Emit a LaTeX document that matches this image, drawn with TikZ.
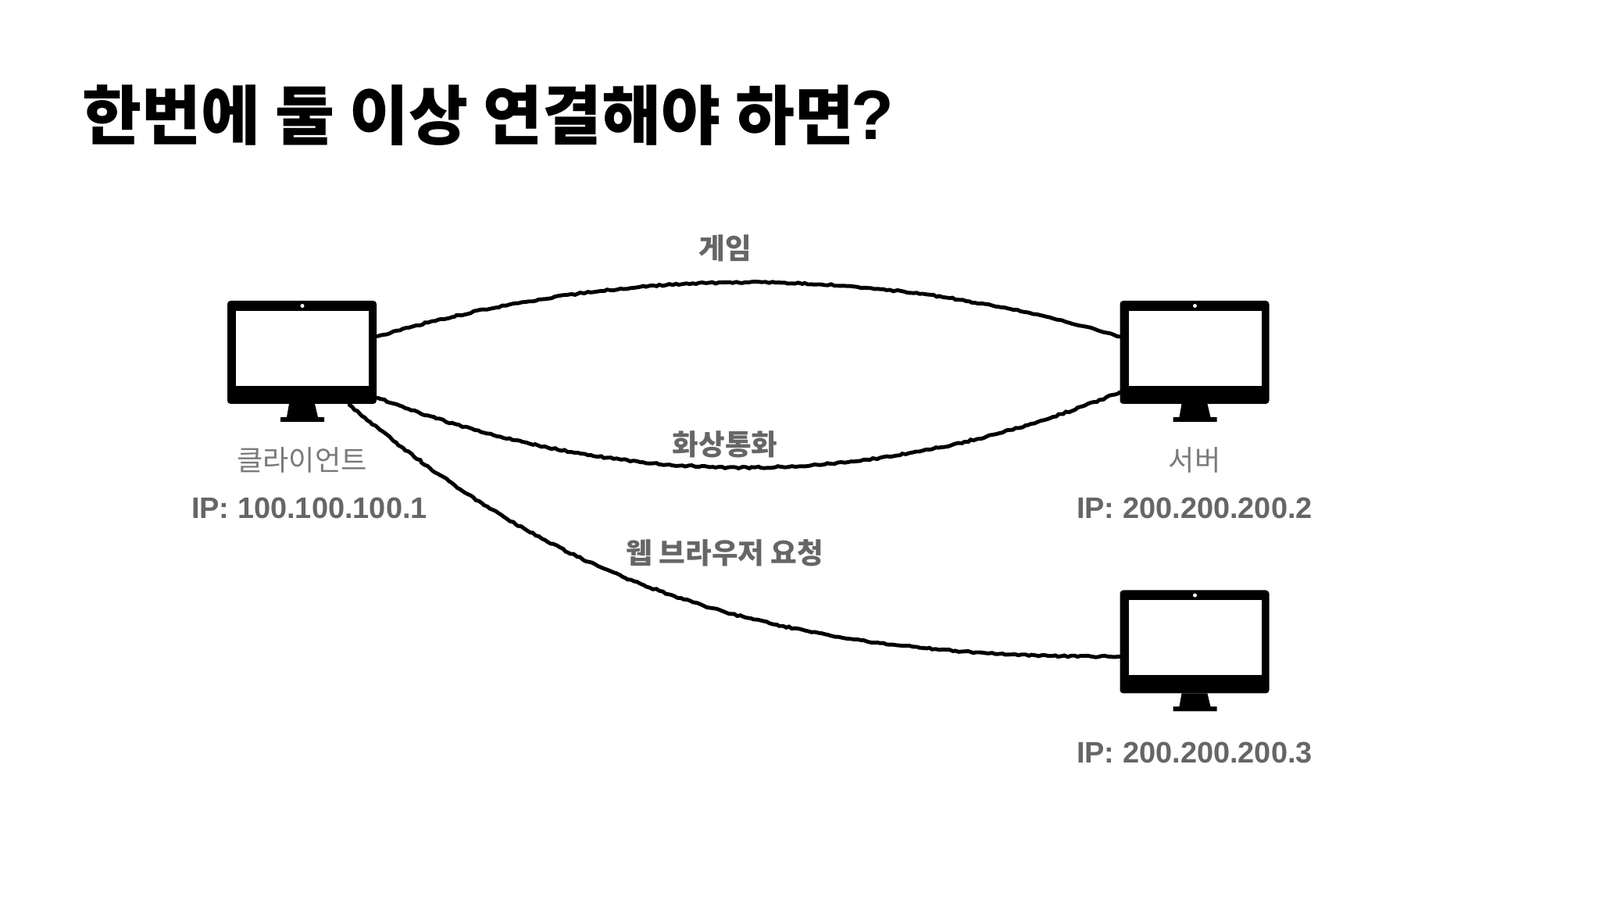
\documentclass[tikz,border=0pt]{standalone}
\usepackage{fontspec}
\setmainfont{Liberation Sans}
\newfontfamily\krfont{Noto Sans CJK KR}
\usetikzlibrary{calc,decorations.pathmorphing}

\definecolor{labelgray}{HTML}{666666}
\definecolor{namegray}{HTML}{7A7A7A}

\tikzset{
    monitorframe/.style={fill=black, rounded corners=1.2pt, minimum width=1.91cm, minimum height=1.32cm, inner sep=0pt, outer sep=0.4pt},
    monitorscreen/.style={fill=white, minimum width=1.70cm, minimum height=0.96cm, inner sep=0pt},
    monitorcam/.style={circle, fill=white, minimum size=0.05cm, inner sep=0pt},
    wire/.style={line width=1.4pt, black, line cap=round, decorate, decoration={random steps, segment length=1.2pt, amplitude=0.3pt}},
    linelabel/.style={font=\krfont\bfseries\fontsize{10.4}{12}\selectfont, text=labelgray},
    namelabel/.style={font=\krfont\fontsize{10.3}{12}\selectfont, text=namegray},
    iplabel/.style={font=\bfseries\fontsize{10.8}{12}\selectfont, text=labelgray},
}

% monitor: name, x, y of the frame centre
\newcommand{\drawmonitor}[3]{
    \node[monitorframe] (#1) at (#2,#3) {};
    \node[monitorscreen] (#1-screen) at ($(#1)+(0.005,0.05)$) {};
    \node[monitorcam] (#1-cam) at ($(#1)+(0.005,0.595)$) {};
    \fill[black] ($(#1)+(-0.165,-0.66)$) -- ($(#1)+(0.165,-0.66)$) -- ($(#1)+(0.205,-0.83)$) -- ($(#1)+(0.285,-0.83)$) -- ($(#1)+(0.285,-0.89)$) -- ($(#1)+(-0.275,-0.89)$) -- ($(#1)+(-0.275,-0.83)$) -- ($(#1)+(-0.195,-0.83)$) -- cycle;
}

\begin{document}
\begin{tikzpicture}
    \useasboundingbox (0,0) rectangle (20.48,11.52);

    % Title
    \node[right, inner sep=0pt, font=\krfont\bfseries\fontsize{23.5}{28}\selectfont] (title) at (1.05,10.04) {한번에 둘 이상 연결해야 하면\hspace{-1pt}{\normalfont\bfseries\fontsize{25.5}{28}\selectfont ?}};

    % Monitors
    \drawmonitor{client}{3.865}{7.01}
    \drawmonitor{server}{15.29}{7.01}
    \drawmonitor{web}{15.29}{3.305}

    % Client labels
    \node[namelabel] (clientname) at (3.865,5.63) {클라이언트};
    \node[iplabel] (clientip) at (3.96,5.02) {IP: 100.100.100.1};

    % Server labels
    \node[namelabel] (servername) at (15.29,5.63) {서버};
    \node[iplabel] (serverip) at (15.29,5.02) {IP: 200.200.200.2};
    \node[iplabel] (webip) at (15.29,1.89) {IP: 200.200.200.3};

    % Connections
    \draw[wire] (client.12) .. controls +(3.16,0.92) and +(-3.13,0.92) .. (server.168);
    \draw[wire] (client.-31) .. controls +(3.16,-1.2) and +(-3.13,-1.27) .. (server.208);
    \draw[wire] (client.-48) .. controls +(2.53,-2.12) and +(-4.83,-0.02) .. (web.191);

    % Connection labels
    \node[linelabel] (gamelabel) at (9.28,8.34) {게임};
    \node[linelabel] (calllabel) at (9.28,5.83) {화상통화};
    \node[linelabel] (browserlabel) at (9.28,4.44) {웹 브라우저 요청};
\end{tikzpicture}
\end{document}
